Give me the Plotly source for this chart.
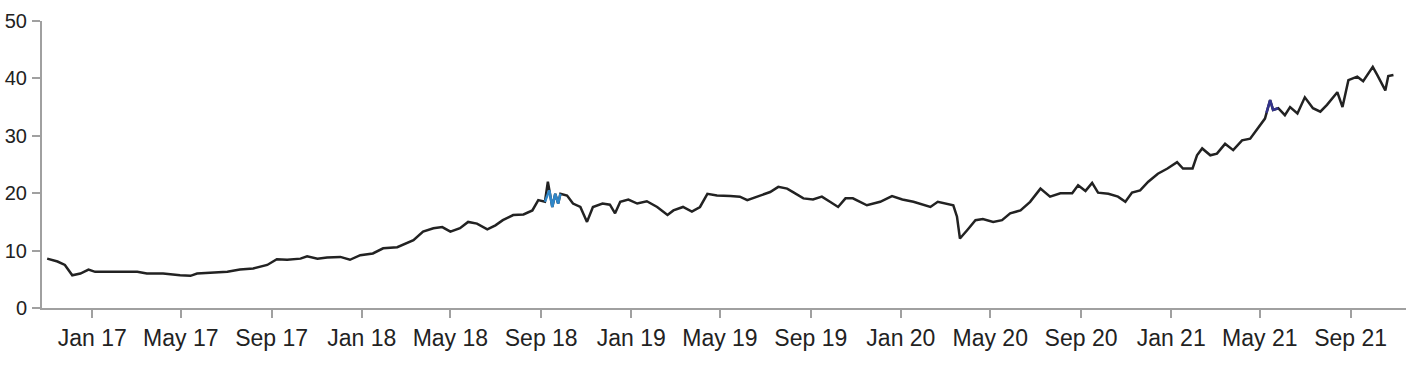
import plotly.graph_objects as go

dates = [
    "2016-11-01", "2016-11-15", "2016-11-25", "2016-12-05", "2016-12-16", "2016-12-27",
    "2017-01-05", "2017-01-21", "2017-02-08", "2017-03-03", "2017-03-16", "2017-04-07",
    "2017-04-30", "2017-05-14", "2017-05-23", "2017-06-14", "2017-07-03", "2017-07-20",
    "2017-08-07", "2017-08-26", "2017-09-08", "2017-09-22", "2017-10-10", "2017-10-19",
    "2017-11-02", "2017-11-15", "2017-12-03", "2017-12-16", "2017-12-30", "2018-01-16",
    "2018-01-30", "2018-02-18", "2018-03-12", "2018-03-25", "2018-04-08", "2018-04-20",
    "2018-05-01", "2018-05-14", "2018-05-25", "2018-06-06", "2018-06-20", "2018-07-01",
    "2018-07-11", "2018-07-25", "2018-08-08", "2018-08-20", "2018-08-28", "2018-09-06",
    "2018-09-10", "2018-09-16", "2018-09-20", "2018-09-24", "2018-09-27", "2018-10-06",
    "2018-10-14", "2018-10-24", "2018-11-02", "2018-11-10", "2018-11-23", "2018-12-03",
    "2018-12-10", "2018-12-17", "2018-12-28", "2019-01-09", "2019-01-22", "2019-02-05",
    "2019-02-19", "2019-02-27", "2019-03-12", "2019-03-24", "2019-04-04", "2019-04-14",
    "2019-04-27", "2019-05-15", "2019-05-28", "2019-06-07", "2019-06-24", "2019-07-08",
    "2019-07-19", "2019-07-31", "2019-08-08", "2019-08-22", "2019-09-04", "2019-09-16",
    "2019-09-27", "2019-10-08", "2019-10-18", "2019-10-28", "2019-11-16", "2019-12-04",
    "2019-12-20", "2020-01-03", "2020-01-18", "2020-02-10", "2020-02-20", "2020-03-12",
    "2020-03-17", "2020-03-21", "2020-03-31", "2020-04-11", "2020-04-21", "2020-05-05",
    "2020-05-17", "2020-05-28", "2020-06-11", "2020-06-24", "2020-07-08", "2020-07-21",
    "2020-08-04", "2020-08-20", "2020-08-28", "2020-09-07", "2020-09-16", "2020-09-24",
    "2020-10-08", "2020-10-21", "2020-10-31", "2020-11-09", "2020-11-20", "2020-12-01",
    "2020-12-14", "2020-12-27", "2021-01-09", "2021-01-17", "2021-01-30", "2021-02-05",
    "2021-02-12", "2021-02-23", "2021-03-04", "2021-03-15", "2021-03-26", "2021-04-07",
    "2021-04-18", "2021-04-29", "2021-05-08", "2021-05-15", "2021-05-19", "2021-05-26",
    "2021-06-04", "2021-06-11", "2021-06-21", "2021-07-01", "2021-07-12", "2021-07-22",
    "2021-07-31", "2021-08-14", "2021-08-21", "2021-08-29", "2021-09-10", "2021-09-18",
    "2021-10-01", "2021-10-07", "2021-10-11", "2021-10-18", "2021-10-22", "2021-10-29",
]

values = [
    8.6, 8.1, 7.5, 5.7, 6.0, 6.7,
    6.3, 6.3, 6.3, 6.3, 6.0, 6.0,
    5.7, 5.6, 6.0, 6.2, 6.3, 6.7,
    6.9, 7.5, 8.5, 8.4, 8.6, 9.0,
    8.6, 8.8, 8.9, 8.4, 9.2, 9.5,
    10.4, 10.6, 11.8, 13.3, 13.9, 14.1,
    13.3, 13.9, 15.0, 14.7, 13.7, 14.4,
    15.3, 16.2, 16.3, 17.0, 18.8, 18.5,
    22.0, 17.6, 19.9, 18.2, 19.9, 19.6,
    18.2, 17.6, 15.0, 17.6, 18.2, 18.0,
    16.5, 18.5, 18.9, 18.2, 18.6, 17.6,
    16.2, 17.0, 17.6, 16.8, 17.6, 19.9,
    19.6, 19.5, 19.4, 18.8, 19.6, 20.2,
    21.1, 20.8, 20.2, 19.1, 18.9, 19.4,
    18.5, 17.6, 19.1, 19.1, 17.9, 18.5,
    19.5, 18.9, 18.5, 17.6, 18.5, 17.9,
    15.9, 12.1, 13.6, 15.3, 15.5, 15.0,
    15.3, 16.5, 17.0, 18.5, 20.8, 19.4,
    20.0, 20.0, 21.4, 20.4, 21.8, 20.1,
    19.9, 19.4, 18.5, 20.1, 20.5, 22.0,
    23.4, 24.3, 25.4, 24.3, 24.3, 26.6,
    27.8, 26.6, 26.9, 28.6, 27.5, 29.2,
    29.5, 31.5, 33.0, 36.2, 34.5, 34.8,
    33.6, 35.0, 33.9, 36.7, 34.8, 34.2,
    35.4, 37.6, 35.0, 39.7, 40.3, 39.5,
    42.0, 40.6, 39.6, 37.9, 40.4, 40.6,
]

# highlighted stretches
hl1_dates = ["2018-09-06", "2018-09-12", "2018-09-16", "2018-09-20", "2018-09-24", "2018-09-27"]
hl1_values = [18.5, 20.5, 17.6, 19.9, 18.2, 19.9]
hl2_dates = ["2021-05-10", "2021-05-15", "2021-05-19", "2021-05-26"]
hl2_values = [34.0, 36.2, 34.5, 34.8]

y_ticks = [0, 10, 20, 30, 40, 50]

AX = "#a0a0a0"
FONT = dict(family="Liberation Sans, Arial, sans-serif", size=23, color="#222222")
YFONT = dict(family="Liberation Sans, Arial, sans-serif", size=20, color="#222222")

fig = go.Figure()
fig.add_trace(go.Scatter(x=dates, y=values, mode="lines",
                         line=dict(color="#222222", width=2.5), showlegend=False))
fig.add_trace(go.Scatter(x=hl1_dates, y=hl1_values, mode="lines",
                         line=dict(color="#2f86c8", width=2.5), showlegend=False))
fig.add_trace(go.Scatter(x=hl2_dates, y=hl2_values, mode="lines",
                         line=dict(color="#33338c", width=2.5), showlegend=False))

fig.update_layout(
    width=1406, height=383,
    margin=dict(l=42, r=0, t=21, b=75, autoexpand=False),
    paper_bgcolor="white", plot_bgcolor="white",
    font=FONT,
    xaxis=dict(
        type="date",
        range=["2016-10-25", "2021-11-15"],
        tick0="2017-01-01", dtick="M4", tickformat="%b %y",
        showgrid=False, zeroline=False, automargin=False,
        showline=True, linecolor=AX, linewidth=2,
        ticks="outside", ticklen=8, tickcolor=AX, tickwidth=2,
        tickfont=FONT,
    ),
    yaxis=dict(
        range=[0, 50], tickvals=y_ticks,
        showgrid=False, zeroline=False, automargin=False,
        showline=True, linecolor=AX, linewidth=2,
        ticks="outside", ticklen=8, tickcolor=AX, tickwidth=2,
        tickfont=YFONT, ticklabelstandoff=1,
    ),
)

fig.write_html(
    "out.html",
    config={"displayModeBar": False},
    post_script="document.body.style.margin='0px';document.body.style.padding='0px';",
)
